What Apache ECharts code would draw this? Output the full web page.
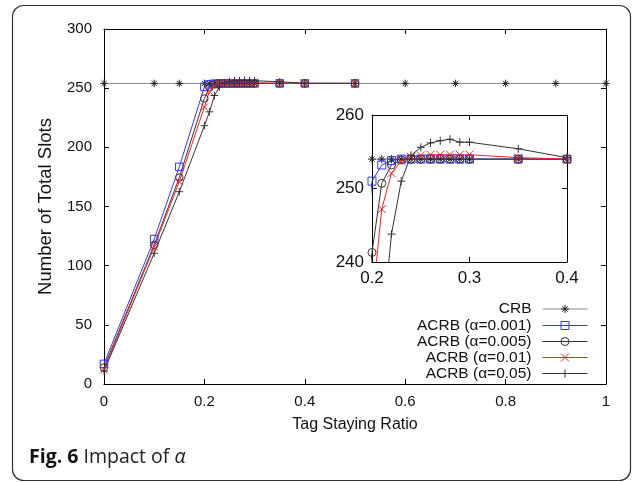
<!DOCTYPE html>
<html><head><meta charset="utf-8">
<script src="https://cdn.jsdelivr.net/npm/echarts@6/dist/echarts.min.js"></script>
<style>html,body{margin:0;padding:0;background:#fff}#c{width:637px;height:482px}</style>
</head><body><div id="c"></div>
<script>
// ---- data ----
const xAcrb = [0, 0.1, 0.15, 0.2, 0.21, 0.22, 0.23, 0.24, 0.25, 0.26, 0.27, 0.28, 0.29, 0.3, 0.35, 0.4, 0.5];
const xCrb = [0, 0.1, 0.15, 0.2, 0.21, 0.22, 0.23, 0.24, 0.25, 0.26, 0.27, 0.28, 0.29, 0.3, 0.35, 0.4, 0.5, 0.6, 0.7, 0.8, 0.9, 1];
const crb = [254, 254, 254, 254, 254, 254, 254, 254, 254, 254, 254, 254, 254, 254, 254, 254, 254, 254, 254, 254, 254, 254];
const acrb001 = [17, 122.5, 183.5, 251, 253.2, 253.8, 254, 254, 254, 254, 254, 254, 254, 254, 254, 254, 254];
const acrb005 = [14, 117.5, 174.5, 241.3, 250.7, 253.2, 253.9, 254, 254, 254, 254, 254, 254, 254, 254, 254, 254];
const acrb01 = [12, 116, 171, 234, 247.2, 252.1, 253.7, 254.3, 254.5, 254.6, 254.6, 254.6, 254.6, 254.6, 254.2, 254, 254];
const acrb05 = [11, 110.5, 162.5, 218.3, 230, 243.8, 251, 254.5, 255.6, 256.2, 256.5, 256.7, 256.3, 256.3, 255.4, 254.2, 254];
const seriesNames = ['CRB', 'ACRB (α=0.001)', 'ACRB (α=0.005)', 'ACRB (α=0.01)', 'ACRB (α=0.05)'];
const mainXRange = [0, 1, 0.2];
const mainYRange = [0, 300, 50];
const insetXRange = [0.2, 0.4, 0.1];
const insetYRange = [240, 260, 10];

// ---- styles ----
const FONT = '"Liberation Sans", Arial, Helvetica, sans-serif';
const STAR = 'path://M0,5L10,5M5,0L5,10M1.6,1.6L8.4,8.4M8.4,1.6L1.6,8.4';
const PLUS = 'path://M0,5L10,5M5,0L5,10';
const CROSS = 'path://M0,0L10,10M10,0L0,10';
const defs = [
  {name: seriesNames[0], xs: xCrb, ys: crb, line: '#8c8c8c', mark: '#222', symbol: STAR},
  {name: seriesNames[1], xs: xAcrb, ys: acrb001, line: '#3535ff', mark: '#3535ff', symbol: 'rect'},
  {name: seriesNames[2], xs: xAcrb, ys: acrb005, line: '#333', mark: '#333', symbol: 'circle'},
  {name: seriesNames[3], xs: xAcrb, ys: acrb01, line: '#ff2020', mark: '#ff2020', symbol: CROSS},
  {name: seriesNames[4], xs: xAcrb, ys: acrb05, line: '#333', mark: '#333', symbol: PLUS}
];
const pairs = (xs, ys) => xs.map((x, i) => [x, ys[i]]);

const series = [];
[[0, 7.5], [2, 8]].forEach(([axisIdx, size]) => {
  defs.forEach(d => {
    series.push({
      type: 'line', name: d.name,
      xAxisIndex: axisIdx, yAxisIndex: axisIdx,
      data: pairs(d.xs, d.ys),
      symbol: d.symbol, symbolSize: size, showAllSymbol: true,
      lineStyle: {color: d.line, width: 1},
      itemStyle: {color: 'transparent', borderColor: d.mark, borderWidth: 1},
      emphasis: {disabled: true},
      clip: true
    });
  });
});

function axisBase(extra) {
  return Object.assign({
    type: 'value',
    axisLine: {show: true, onZero: false, lineStyle: {color: '#000', width: 1}},
    axisTick: {show: true, inside: true, length: 5, lineStyle: {color: '#000', width: 1}},
    splitLine: {show: false},
    axisLabel: {color: '#111', fontSize: 15, fontFamily: FONT}
  }, extra);
}
const noLabel = {show: false};
const mainLbl = (m) => ({color: '#111', fontSize: 15, fontFamily: FONT, margin: m});
const insetLbl = (m) => ({color: '#111', fontSize: 17, fontFamily: FONT, margin: m});

const xAxis = [
  axisBase({gridIndex: 0, position: 'bottom', min: mainXRange[0], max: mainXRange[1], interval: mainXRange[2],
    name: 'Tag Staying Ratio', nameLocation: 'middle', nameGap: 33,
    nameTextStyle: {color: '#111', fontSize: 16, fontFamily: FONT},
    axisLabel: mainLbl(10)}),
  axisBase({gridIndex: 0, position: 'top', min: mainXRange[0], max: mainXRange[1], interval: mainXRange[2], axisLabel: noLabel}),
  axisBase({gridIndex: 1, position: 'bottom', min: insetXRange[0], max: insetXRange[1], interval: insetXRange[2],
    axisLabel: insetLbl(8)}),
  axisBase({gridIndex: 1, position: 'top', min: insetXRange[0], max: insetXRange[1], interval: insetXRange[2], axisLabel: noLabel})
];
const yAxis = [
  axisBase({gridIndex: 0, position: 'left', min: mainYRange[0], max: mainYRange[1], interval: mainYRange[2],
    name: 'Number of Total Slots', nameLocation: 'middle', nameGap: 49, nameRotate: 90,
    nameTextStyle: {color: '#111', fontSize: 18.5, fontFamily: FONT},
    axisLabel: mainLbl(12)}),
  axisBase({gridIndex: 0, position: 'right', min: mainYRange[0], max: mainYRange[1], interval: mainYRange[2], axisLabel: noLabel}),
  axisBase({gridIndex: 1, position: 'left', min: insetYRange[0], max: insetYRange[1], interval: insetYRange[2],
    axisLabel: insetLbl(8)}),
  axisBase({gridIndex: 1, position: 'right', min: insetYRange[0], max: insetYRange[1], interval: insetYRange[2], axisLabel: noLabel})
];

const rowY = [306, 322.5, 338.5, 354.5, 370.5];
const legend = defs.map((d, i) => ({
  data: [d.name], right: 49, top: rowY[i] - 5, orient: 'vertical', align: 'right',
  padding: 0, itemWidth: 45, itemHeight: 10, selectedMode: false,
  itemStyle: {color: 'transparent', borderColor: d.mark, borderWidth: 1},
  lineStyle: {color: d.line, width: 1},
  textStyle: {color: '#111', fontSize: 15.5, fontFamily: FONT, padding: [0, 6, 0, 0]}
}));

const chart = echarts.init(document.getElementById('c'), null, {renderer: 'canvas'});
chart.setOption({
  animation: false,
  backgroundColor: '#fff',
  grid: [
    {left: 104, right: 31, top: 29, bottom: 98, containLabel: false},
    {left: 372, right: 70, top: 115, bottom: 220, containLabel: false}
  ],
  xAxis, yAxis, legend, series,
  title: {
    left: 29, top: 447, padding: 0,
    text: '{b|Fig. 6} {n|Impact of }{i|α}',
    textStyle: {
      rich: {
        b: {fontFamily: '"Open Sans", sans-serif', fontWeight: 'bold', fontSize: 19.5, color: '#111'},
        n: {fontFamily: '"Open Sans", sans-serif', fontWeight: 'normal', fontSize: 19.5, color: '#222'},
        i: {fontFamily: '"Open Sans", sans-serif', fontWeight: 'normal', fontStyle: 'italic', fontSize: 19.5, color: '#222'}
      }
    }
  },
  graphic: [{
    type: 'rect', silent: true, z: -10,
    shape: {x: 12.5, y: 5.5, width: 618, height: 475, r: 11},
    style: {fill: 'none', stroke: '#333', lineWidth: 1.2}
  }]
});
</script></body></html>
